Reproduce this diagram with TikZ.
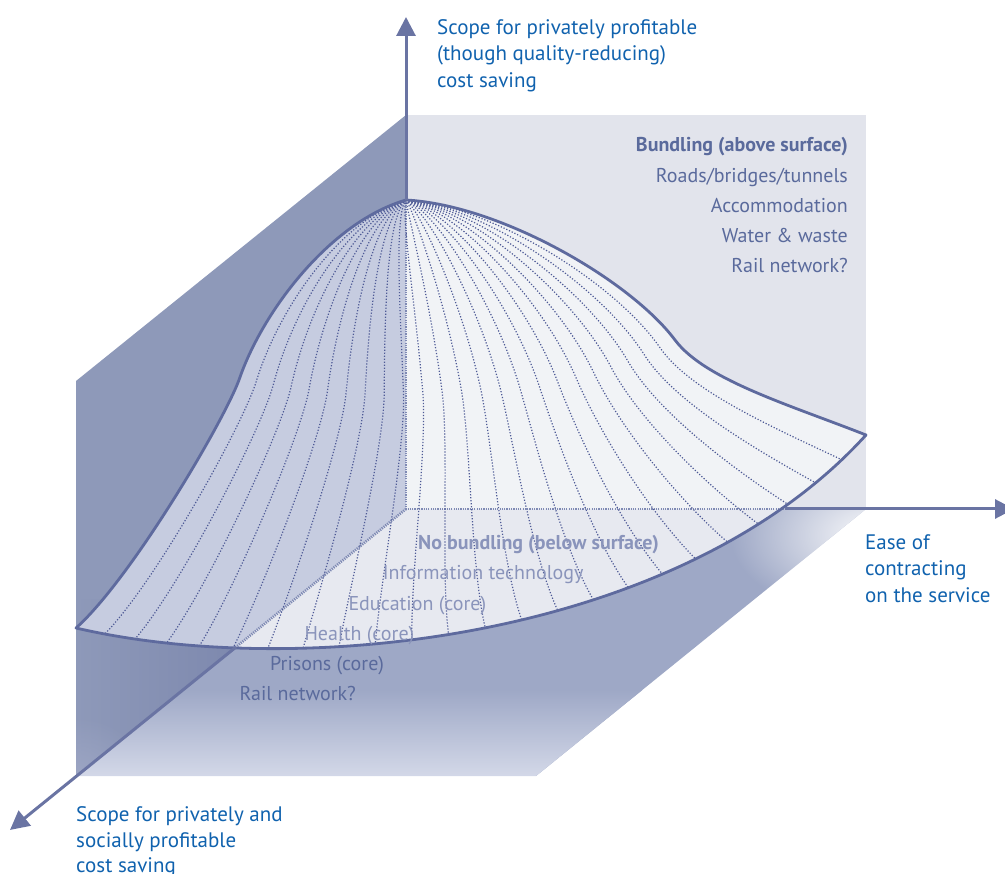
\documentclass[tikz,border=0pt]{standalone}
\usepackage{fontspec}
\setmainfont{PT Sans}
\usetikzlibrary{arrows.meta,calc,fadings}
\definecolor{axiscol}{HTML}{6A74A3}
\definecolor{edgecol}{HTML}{5E6A9E}
\definecolor{dotcol}{HTML}{4E5A96}
\definecolor{hidcol}{HTML}{7F8AB4}
\definecolor{bluetext}{HTML}{1062AE}
\definecolor{slate}{HTML}{5A6A9C}
\definecolor{paleslate}{HTML}{8A94BB}
\definecolor{backwall}{HTML}{E2E4EC}
\definecolor{leftwall}{HTML}{8E99B9}
\definecolor{leftwalldark}{HTML}{7C87AD}
\definecolor{leftwalllight}{HTML}{9DA6C4}
\definecolor{floortop}{HTML}{9EA8C6}
\definecolor{floorbot}{HTML}{D3D8E8}
\definecolor{surfleft}{HTML}{C6CCE0}
\definecolor{surfright}{HTML}{F1F3F6}
\definecolor{surffloor}{HTML}{E7E9F0}
\tikzfading[name=glowfade, inner color=transparent!0, outer color=transparent!100]
\begin{document}
\begin{tikzpicture}[x=1pt,y=-1pt,
  axisline/.style={axiscol, line width=3pt, -{Triangle[length=19pt,width=19pt]}},
  hiddenline/.style={hidcol, line width=2.6pt, dash pattern=on 1.2pt off 1.1pt},
  meridian/.style={dotcol, line width=1.2pt, dash pattern=on 1.2pt off 1.8pt},
  edgeline/.style={edgecol, line width=2.8pt, line join=round},
  bluelab/.style={font=\fontsize{21}{25}\selectfont, text=bluetext, inner sep=0pt, anchor=base west},
  bundlab/.style={font=\fontsize{20}{24}\selectfont, text=slate, inner sep=0pt, anchor=base east},
  nolab/.style={font=\fontsize{20}{24}\selectfont, text=paleslate, inner sep=0pt, anchor=base west},
  floorlab/.style={font=\fontsize{20}{24}\selectfont, text=slate, inner sep=0pt, anchor=base west}]
\useasboundingbox (0,0) rectangle (1005,874);
% key points
\coordinate (O) at (406,509);
\coordinate (peak) at (406,200);
\coordinate (ztip) at (406,17);
\coordinate (xtip) at (1014,509);
\coordinate (ytip) at (10,830);
\coordinate (xcross) at (785,509);
\coordinate (ycross) at (236,647);
\coordinate (BWtl) at (406,115);
\coordinate (BWbr) at (866,509);
\coordinate (LWt) at (76,381);
\coordinate (LWb) at (76,776);
\coordinate (FLr) at (536,776);
\coordinate (Lend) at (76,628);
\coordinate (Rend) at (866,435);
\def\surfpath{(peak) .. controls (500,205) and (630,280) .. (675,340)
  .. controls (705,380) and (790,405) .. (Rend)
  .. controls (680,640) and (300,680) .. (Lend)
  .. controls (130,580) and (222,425) .. (239,380)
  .. controls (262,312) and (330,222) .. (peak) -- cycle}
% walls
\fill[backwall] (BWtl) rectangle (BWbr);
\fill[leftwall] (BWtl) -- (LWt) -- (LWb) -- (O) -- cycle;
\begin{scope}
  \clip (BWtl) -- (LWt) -- (LWb) -- (O) -- cycle;
  \shade[left color=leftwall, right color=leftwalldark] (76,600) rectangle (250,776);
  \fill[leftwalllight, path fading=glowfade] (76,776) ellipse (70 and 60);
\end{scope}
% floor
\begin{scope}
  \clip (O) -- (BWbr) -- (FLr) -- (LWb) -- cycle;
  \fill[floortop] (76,509) rectangle (866,776);
  \shade[top color=floortop, bottom color=floorbot] (76,690) rectangle (866,776);
  \fill[white, path fading=glowfade] (880,535) ellipse (150 and 85);
\end{scope}
% surface fills
\begin{scope}
  \clip \surfpath;
  \fill[surfright] (BWtl) rectangle (BWbr);
  \fill[surfleft] (BWtl) -- (LWt) -- (LWb) -- (O) -- cycle;
  \fill[surffloor] (O) -- (BWbr) -- (FLr) -- (LWb) -- cycle;
\end{scope}
% hidden axes
\draw[hiddenline] (peak) -- (O) -- (xcross);
\draw[hiddenline] (O) -- (ycross);
% meridians
\foreach \i in {1,...,23}{
  \pgfmathsetmacro\t{\i/24}
  \pgfmathsetmacro\s{1-\t}
  \pgfmathsetmacro\Fx{\s*\s*\s*76+3*\s*\s*\t*300+3*\s*\t*\t*680+\t*\t*\t*866}
  \pgfmathsetmacro\Fy{\s*\s*\s*628+3*\s*\s*\t*680+3*\s*\t*\t*640+\t*\t*\t*435}
  \pgfmathsetmacro\Dx{\Fx-(\s*76+\t*866)}
  \pgfmathsetmacro\Dy{\Fy-(\s*628+\t*435)}
  \draw[meridian] (peak) .. controls ({\s*330+\t*500},{\s*222+\t*205})
     and ({\s*262+\t*630+0.15*\Dx},{\s*312+\t*280+0.15*\Dy})
     .. ({\s*239+\t*675+0.35*\Dx},{\s*380+\t*340+0.35*\Dy})
     .. controls ({\s*222+\t*705+0.5*\Dx},{\s*425+\t*380+0.5*\Dy})
     and ({\s*130+\t*790+0.8*\Dx},{\s*580+\t*405+0.8*\Dy}) .. (\Fx,\Fy);
}
% surface edges
\draw[edgeline] \surfpath;
% visible axes
\draw[axisline] (peak) -- (ztip);
\draw[axisline] (xcross) -- (xtip);
\draw[axisline] (ycross) -- (ytip);
% labels
\node[bluelab] (z1) at (437,34.3) {Scope for privately profitable};
\node[bluelab] (z2) at (437,61) {(though quality-reducing)};
\node[bluelab] (z3) at (437,87.5) {cost saving};
\node[bundlab, font=\fontsize{20}{24}\selectfont\bfseries] (b0) at (848,151.7) {Bundling (above surface)};
\node[bundlab] (b1) at (848,182.3) {Roads/bridges/tunnels};
\node[bundlab] (b2) at (848,212.3) {Accommodation};
\node[bundlab] (b3) at (848,242.3) {Water \& waste};
\node[bundlab] (b4) at (848,272.3) {Rail network?};
\node[nolab, font=\fontsize{20}{24}\selectfont\bfseries] (n0) at (418,549.3) {No bundling (below surface)};
\node[nolab] (n1) at (382.7,579.3) {Information technology};
\node[nolab] (n2) at (348.3,610) {Education (core)};
\node[nolab] (n3) at (304.3,640) {Health (core)};
\node[floorlab] (n4) at (270,670) {Prisons (core)};
\node[floorlab] (n5) at (239.3,700) {Rail network?};
\node[bluelab] (x1) at (865,550) {Ease of};
\node[bluelab] (x2) at (865,576) {contracting};
\node[bluelab] (x3) at (865,602.7) {on the service};
\node[bluelab] (y1) at (76,821) {Scope for privately and};
\node[bluelab] (y2) at (76,847.3) {socially profitable};
\node[bluelab] (y3) at (76,872.5) {cost saving};
\end{tikzpicture}
\end{document}
